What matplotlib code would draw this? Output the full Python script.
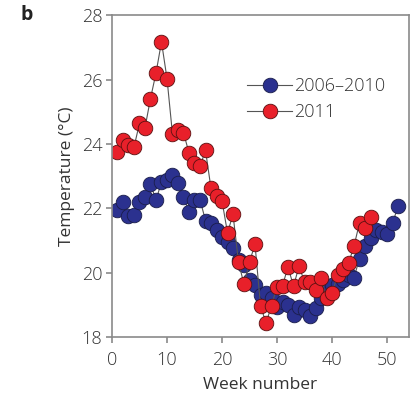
import matplotlib
matplotlib.use("Agg")
import matplotlib.pyplot as plt
import numpy as np

plt.rcParams['font.family'] = ['Open Sans', 'DejaVu Sans']
plt.rcParams['font.weight'] = 'light'

# weekly mean temperatures
weeks_base = list(range(1, 53))
temp_base = [21.94, 22.20, 21.76, 21.79, 22.20, 22.36, 22.77, 22.25, 22.82, 22.88,
             23.03, 22.80, 22.36, 21.89, 22.25, 22.27, 21.62, 21.53, 21.34, 21.11,
             20.96, 20.76, 20.39, 20.24, 19.77, 19.61, 19.30, 19.36, 19.20, 18.92,
             19.10, 18.99, 18.70, 18.94, 18.84, 18.65, 18.89, 19.20, 19.51, 19.61,
             19.64, 19.77, 19.93, 19.85, 20.44, 20.83, 21.07, 21.34, 21.27, 21.20,
             21.53, 22.07]

weeks_2011 = list(range(1, 48))
temp_2011 = [23.75, 24.12, 23.97, 23.90, 24.64, 24.50, 25.41, 26.20, 27.17, 26.03,
             24.30, 24.43, 24.35, 23.72, 23.40, 23.30, 23.80, 22.62, 22.38, 22.23,
             21.24, 21.81, 20.33, 19.64, 20.34, 20.88, 18.98, 18.43, 18.98, 19.56,
             19.60, 20.18, 19.58, 20.20, 19.72, 19.72, 19.46, 19.84, 19.20, 19.36,
             19.93, 20.10, 20.29, 20.83, 21.55, 21.40, 21.74]

txt = '#333333'
spine = '#8a8a8a'

fig = plt.figure(figsize=(4.14, 3.98), dpi=100)
ax = fig.add_axes([0.2705, 0.153, 0.7175, 0.809])

ax.plot(weeks_base, temp_base, '-o', color='#555555', lw=0.8,
        markerfacecolor='#2b318f', markeredgecolor='#1a1d4a', markeredgewidth=0.6,
        markersize=10.5, label='2006–2010')
ax.plot(weeks_2011, temp_2011, '-o', color='#555555', lw=0.8,
        markerfacecolor='#e8202a', markeredgecolor='#5a1010', markeredgewidth=0.6,
        markersize=10.5, label='2011')

ax.set_xlim(0, 54)
ax.set_ylim(18, 28)
ax.set_xticks([0, 10, 20, 30, 40, 50])
ax.set_yticks([18, 20, 22, 24, 26, 28])

for s in ax.spines.values():
    s.set_color(spine)
    s.set_linewidth(1.2)
ax.tick_params(direction='out', length=4, width=1.2, color=spine,
               labelsize=13, labelcolor=txt)
ax.tick_params(axis='x', pad=6)
ax.tick_params(axis='y', pad=3)

ax.set_xlabel('Week number', fontsize=12.5, color=txt, labelpad=6)
ax.set_ylabel('Temperature (°C)', fontsize=12.5, color=txt, labelpad=5)

leg = ax.legend(loc='upper left', bbox_to_anchor=(0.43, 0.83), frameon=False,
                fontsize=13, handlelength=2.5, handletextpad=0.1,
                labelspacing=0.45, borderaxespad=0)
for t in leg.get_texts():
    t.set_color(txt)

fig.text(0.05, 0.962, 'b', fontsize=14, fontweight='bold', color='#222222',
         ha='left', va='center')

fig.savefig('out.png', dpi=100)
